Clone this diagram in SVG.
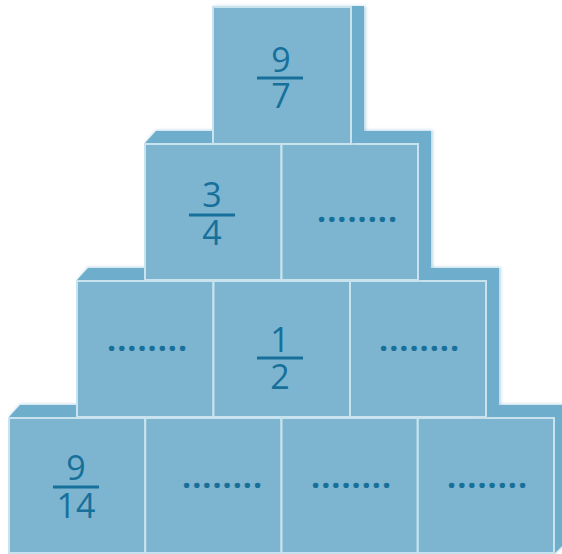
<svg xmlns="http://www.w3.org/2000/svg" width="562" height="554" viewBox="0 0 562 554">
<defs>
<style>
.side{fill:#6eadcc;}
.glow{fill:#6eadcc;opacity:0.45;filter:url(#soft);}
.face{fill:#7db5d1;stroke:#c9e3ee;stroke-width:2;}
.num{font-family:"Open Sans","Liberation Sans",sans-serif;font-size:34px;fill:#17709a;text-anchor:middle;}
.bar{stroke:#17709a;stroke-width:3;}
.dots{font-family:"Open Sans","Noto Sans",sans-serif;font-weight:bold;font-size:32px;fill:#17709a;text-anchor:middle;}
</style>
<filter id="soft" x="-10%" y="-10%" width="120%" height="120%"><feGaussianBlur stdDeviation="1.5"/></filter>
</defs>
<rect width="562" height="554" fill="#ffffff"/>

<!-- Row 4 -->
<g id="row4-depth">
<polygon class="glow" points="9,417 20,404 569,404 569,541 554,555"/>
<polygon class="side" points="9,417 20,405 567,405 567,541 554,554"/>
</g>
<g id="block-r4c1"><rect class="face" x="9" y="418" width="136.25" height="135"/>
<text class="num"><tspan x="76" y="480">9</tspan><tspan x="76" y="518">14</tspan></text><line class="bar" x1="53" y1="487" x2="99" y2="487"/></g>
<g id="block-r4c2"><rect class="face" x="145.25" y="418" width="136.25" height="135"/><text class="dots" x="222" y="487.5" textLength="80" lengthAdjust="spacing">........</text></g>
<g id="block-r4c3"><rect class="face" x="281.5" y="418" width="136.25" height="135"/><text class="dots" x="351" y="487.5" textLength="80" lengthAdjust="spacing">........</text></g>
<g id="block-r4c4"><rect class="face" x="417.75" y="418" width="136.25" height="135"/><text class="dots" x="487" y="487.5" textLength="80" lengthAdjust="spacing">........</text></g>

<!-- Row 3 -->
<g id="row3-depth">
<polygon class="glow" points="77,280 88,267 501,267 501,404 486,418"/>
<polygon class="side" points="77,280 88,268 499,268 499,404 486,417"/>
</g>
<g id="block-r3c1"><rect class="face" x="77" y="281" width="136.5" height="136"/><text class="dots" x="147" y="350.5" textLength="80" lengthAdjust="spacing">........</text></g>
<g id="block-r3c2"><rect class="face" x="213.5" y="281" width="136.5" height="136"/>
<text class="num"><tspan x="280" y="352">1</tspan><tspan x="280" y="389">2</tspan></text><line class="bar" x1="257" y1="358" x2="303" y2="358"/></g>
<g id="block-r3c3"><rect class="face" x="350" y="281" width="136" height="136"/><text class="dots" x="419" y="350.5" textLength="80" lengthAdjust="spacing">........</text></g>

<!-- Row 2 -->
<g id="row2-depth">
<polygon class="glow" points="145,143 156,130 433,130 433,267 418,281"/>
<polygon class="side" points="145,143 156,131 431,131 431,267 418,280"/>
</g>
<g id="block-r2c1"><rect class="face" x="145" y="144" width="136.5" height="136"/>
<text class="num"><tspan x="212" y="207">3</tspan><tspan x="212" y="245">4</tspan></text><line class="bar" x1="189" y1="215" x2="235" y2="215"/></g>
<g id="block-r2c2"><rect class="face" x="281.5" y="144" width="136.5" height="136"/><text class="dots" x="357" y="221.5" textLength="80" lengthAdjust="spacing">........</text></g>

<!-- Row 1 -->
<g id="row1-depth">
<polygon class="glow" points="213,6 366,6 366,131 351,145"/>
<polygon class="side" points="213,6 364,6 364,131 351,144"/>
</g>
<g id="block-r1c1"><rect class="face" x="213" y="7" width="138" height="137"/>
<text class="num"><tspan x="281" y="72">9</tspan><tspan x="281" y="108">7</tspan></text><line class="bar" x1="257" y1="78" x2="303" y2="78"/></g>

<g id="connectors"/>
</svg>
